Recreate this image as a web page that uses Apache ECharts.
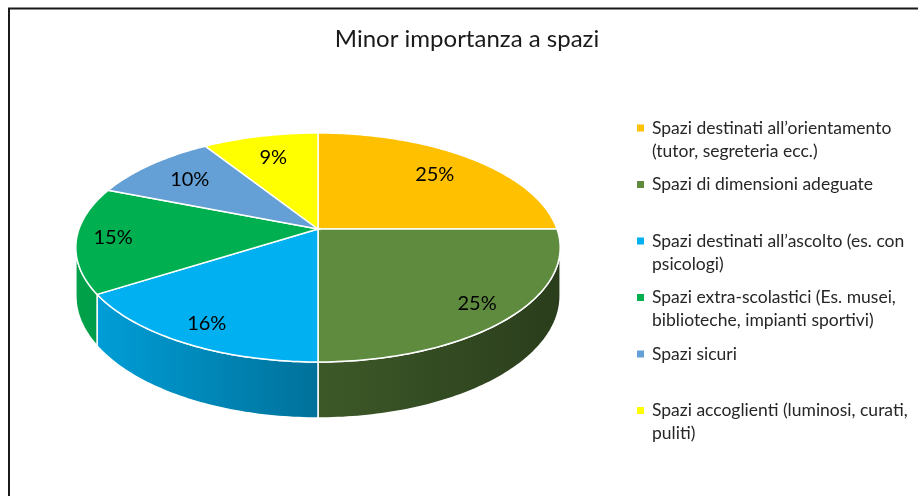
<!DOCTYPE html>
<html>
<head>
<meta charset="utf-8">
<script src="https://cdn.jsdelivr.net/npm/echarts@6/dist/echarts.min.js"></script>
<style>
html, body { margin: 0; background: #fff; }
#main { width: 918px; height: 496px; }
</style>
</head>
<body>
<div id="main"></div>
<script>
// dati
var categories = [
  "Spazi destinati all\u2019orientamento\n(tutor, segreteria ecc.)",
  "Spazi di dimensioni adeguate",
  "Spazi destinati all\u2019ascolto (es. con\npsicologi)",
  "Spazi extra-scolastici (Es. musei,\nbiblioteche, impianti sportivi)",
  "Spazi sicuri",
  "Spazi accoglienti (luminosi, curati,\npuliti)"
];
var values = [25, 25, 16, 15, 10, 9];

var colors = ["#FFC000", "#5F8B3F", "#00B0F0", "#00B050", "#64A0D6", "#FFFF00"];

// geometria della torta 3D (prospettiva)
var CX = 318, CY = 229, RX = 239, RY = 111.5, K = 0.1615, DEPTH = 47;
var FONT = "Lato";

var total = values.reduce(function (a, b) { return a + b; }, 0);
var starts = [];
var acc = 0;
values.forEach(function (v) { starts.push(acc); acc += v; });

function project(theta, f, drop) {
  var u = Math.sin(theta), v = -Math.cos(theta);
  var s = 1 / (1 - K * f * v);
  return [CX + RX * f * u * s, CY + RY * f * v * s + (drop || 0) * s];
}

function shade(hex, k) {
  var n = parseInt(hex.slice(1), 16);
  var r = Math.round(((n >> 16) & 255) * k);
  var g = Math.round(((n >> 8) & 255) * k);
  var b = Math.round((n & 255) * k);
  return "rgb(" + r + "," + g + "," + b + ")";
}

function arcPoints(a0, a1, drop) {
  var pts = [];
  var n = Math.max(2, Math.ceil((a1 - a0) / (Math.PI / 180)));
  for (var i = 0; i <= n; i++) {
    pts.push(project(a0 + (a1 - a0) * i / n, 1, drop));
  }
  return pts;
}

function renderSlice(params, api) {
  var start = api.value(0), val = api.value(1);
  var a0 = start / total * Math.PI * 2;
  var a1 = (start + val) / total * Math.PI * 2;
  var base = colors[params.seriesIndex];
  var children = [];

  // parete laterale visibile
  var vis0 = Math.acos(-K), vis1 = Math.PI * 2 - vis0;
  var w0 = Math.max(a0, vis0), w1 = Math.min(a1, vis1);
  if (w1 > w0) {
    var top = arcPoints(w0, w1, 0);
    var bottom = arcPoints(w0, w1, DEPTH).reverse();
    children.push({
      type: "polygon",
      z2: 1,
      shape: { points: top.concat(bottom) },
      style: {
        fill: new echarts.graphic.LinearGradient(CX - RX * 1.02, 0, CX + RX * 1.02, 0, [
          { offset: 0, color: shade(base, 0.92) },
          { offset: 0.5, color: shade(base, 0.64) },
          { offset: 1, color: shade(base, 0.44) }
        ], true),
        stroke: "#fff",
        lineWidth: 1.5
      }
    });
  }

  // faccia superiore
  children.push({
    type: "polygon",
    z2: 2,
    shape: { points: [[CX, CY]].concat(arcPoints(a0, a1, 0)) },
    style: { fill: base, stroke: "#fff", lineWidth: 1.5 }
  });

  // etichetta percentuale
  var mid = (a0 + a1) / 2;
  var f = -Math.cos(mid) > 0 ? 0.85 : 0.75;
  var p = project(mid, f, 0);
  children.push({
    type: "text",
    z2: 3,
    x: p[0],
    y: p[1],
    style: {
      text: Math.round(val / total * 100) + "%",
      fill: "#000",
      font: "20px " + FONT,
      align: "center",
      verticalAlign: "middle"
    }
  });

  return { type: "group", children: children };
}

var series = categories.map(function (name, i) {
  return {
    type: "custom",
    name: name,
    coordinateSystem: "none",
    itemStyle: { color: colors[i] },
    renderItem: renderSlice,
    data: [[starts[i], values[i]]],
    silent: true
  };
});

var myChart = echarts.init(document.getElementById("main"));
var option = {
  backgroundColor: "#fff",
  animation: false,
  title: {
    text: "Minor importanza a spazi",
    left: 467,
    top: 27,
    textAlign: "center",
    padding: 0,
    textStyle: { fontFamily: FONT, fontSize: 24, fontWeight: "normal", color: "#1a1a1a" }
  },
  legend: {
    orient: "vertical",
    left: 637,
    top: 93.5,
    padding: 0,
    itemGap: -12.5,
    itemWidth: 7,
    itemHeight: 7,
    icon: "rect",
    selectedMode: false,
    formatter: function (name) {
      return "\n" + name + (name.indexOf("\n") < 0 ? "\n" : "");
    },
    textStyle: { fontFamily: FONT, fontSize: 17.5, lineHeight: 23, color: "#262626", padding: [0, 0, 0, 3] }
  },
  graphic: [{
    type: "rect",
    shape: { x: 9, y: 8.5, width: 940, height: 520 },
    style: { fill: null, stroke: "#1a1a1a", lineWidth: 2 },
    silent: true
  }],
  series: series
};
myChart.setOption(option);
</script>
</body>
</html>
